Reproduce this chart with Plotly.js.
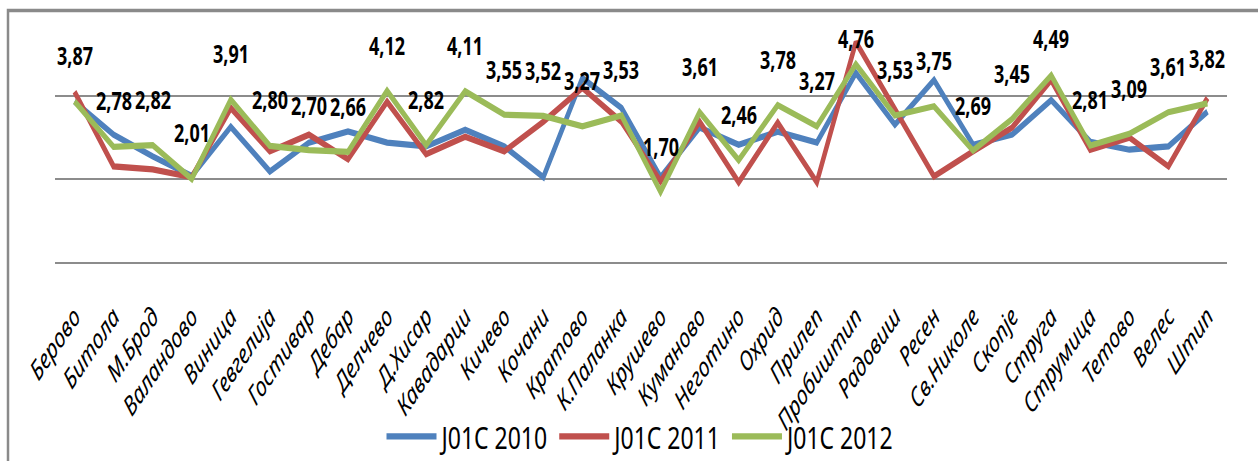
<!DOCTYPE html>
<html>
<head>
<meta charset="utf-8">
<script src="https://cdn.plot.ly/plotly-3.0.1.min.js"></script>
<style>
  html { margin: 0; padding: 0; background: #ffffff; overflow: hidden; }
  body { margin: 0; padding: 0; background: #ffffff; width: 1258px; height: 461px; position: relative; }
  #chart { position: absolute; left: 0; top: 0; width: 1258px; height: 334px; transform: scaleY(1.3802); transform-origin: 0 0; }
</style>
</head>
<body>
<div id="chart"></div>
<script>
const categories = ['Берово','Битола','М.Брод','Валандово','Виница','Гевгелија','Гостивар','Дебар','Делчево','Д.Хисар','Кавадарци','Кичево','Кочани','Кратово','К.Паланка','Крушево','Куманово','Неготино','Охрид','Прилеп','Пробиштип','Радовиш','Ресен','Св.Николе','Скопје','Струга','Струмица','Тетово','Велес','Штип'];

const j01c2010 = [3.86, 3.07, 2.55, 2.08, 3.26, 2.19, 2.88, 3.15, 2.88, 2.79, 3.19, 2.79, 2.05, 4.43, 3.71, 2.05, 3.24, 2.83, 3.14, 2.88, 4.55, 3.31, 4.38, 2.83, 3.07, 3.90, 2.90, 2.71, 2.79, 3.62];
const j01c2011 = [4.10, 2.31, 2.24, 2.05, 3.71, 2.67, 3.07, 2.48, 3.86, 2.60, 3.02, 2.67, 3.38, 4.19, 3.38, 1.95, 3.38, 1.93, 3.36, 1.93, 5.29, 3.67, 2.07, 2.67, 3.24, 4.38, 2.71, 3.00, 2.31, 3.95];
const j01c2012 = [3.87, 2.78, 2.82, 2.01, 3.91, 2.80, 2.70, 2.66, 4.12, 2.82, 4.11, 3.55, 3.52, 3.27, 3.53, 1.70, 3.61, 2.46, 3.78, 3.27, 4.76, 3.53, 3.75, 2.69, 3.45, 4.49, 2.81, 3.09, 3.61, 3.82];

const seriesNames = ['J01C 2010', 'J01C 2011', 'J01C 2012'];
const seriesColors = ['#4F81BD', '#C0504D', '#9BBB59'];
const seriesData = [j01c2010, j01c2011, j01c2012];

const traces = seriesData.map((vals, i) => ({
  type: 'scatter',
  mode: 'lines',
  x: categories,
  y: vals,
  name: seriesNames[i],
  line: { color: seriesColors[i], width: 4.5 },
  hoverinfo: 'skip',
  cliponaxis: false
}));

const fmt = v => v.toFixed(2).replace('.', ',');
const annotations = j01c2012.map((v, i) => ({
  x: categories[i],
  y: Math.min(v + 1.1, 5.38),
  xref: 'x', yref: 'y',
  text: fmt(v),
  showarrow: false,
  xanchor: 'center', yanchor: 'middle',
  font: { family: 'Noto Sans, sans-serif', size: 18, color: '#000000', weight: 'bold' }
}));

const layout = {
  width: 1258,
  height: 334,
  margin: { l: 55, r: 31, t: 9, b: 143, pad: 0, autoexpand: false },
  paper_bgcolor: '#ffffff',
  plot_bgcolor: '#ffffff',
  showlegend: true,
  legend: {
    orientation: 'h',
    x: 0.5, xanchor: 'center',
    y: -0.688, yanchor: 'middle',
    bgcolor: 'rgba(0,0,0,0)',
    font: { family: 'Noto Sans, sans-serif', size: 23, color: '#000000' },
    itemwidth: 50,
    tracegroupgap: 0
  },
  xaxis: {
    type: 'category',
    range: [-0.5, 29.5],
    showgrid: false,
    zeroline: false,
    showline: false,
    ticks: '',
    tickangle: -47,
    ticklabelstandoff: 22,
    tickfont: { family: 'Noto Sans, sans-serif', size: 19.5, color: '#000000', style: 'italic' },
    automargin: false,
    fixedrange: true
  },
  yaxis: {
    range: [-0.02, 6],
    tickvals: [0, 2, 4],
    showgrid: true,
    gridcolor: '#8c8c8c',
    gridwidth: 1.6,
    zeroline: true,
    zerolinecolor: '#8c8c8c',
    zerolinewidth: 1.6,
    showline: false,
    showticklabels: false,
    ticks: '',
    automargin: false,
    fixedrange: true
  },
  shapes: [{
    type: 'rect', xref: 'paper', yref: 'paper',
    x0: -0.0401, x1: 1.2, y0: -2, y1: 1.008,
    line: { color: '#8a8a8a', width: 2.5 },
    fillcolor: 'rgba(0,0,0,0)',
    layer: 'below'
  }],
  annotations: annotations
};

Plotly.newPlot('chart', traces, layout, { staticPlot: true, displayModeBar: false });
</script>
</body>
</html>
